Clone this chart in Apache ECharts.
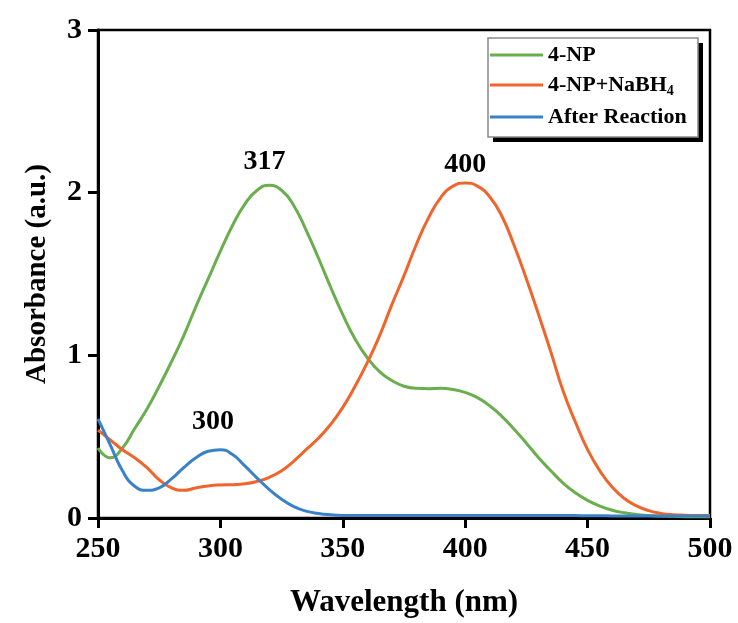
<!DOCTYPE html>
<html>
<head>
<meta charset="utf-8">
<script src="https://cdn.jsdelivr.net/npm/echarts@6/dist/echarts.min.js"></script>
<style>
  html, body { margin: 0; padding: 0; background: #fff; }
  #chart { width: 738px; height: 623px; }
</style>
</head>
<body>
<div id="chart"></div>
<script>
// wavelength (nm), read every 5 nm off the plot
const wavelength = [250, 255, 260, 265, 270, 275, 280, 285, 290, 295, 300, 305, 310, 315, 320, 325, 330, 335, 340, 345,
  350, 355, 360, 365, 370, 375, 380, 385, 390, 395, 400, 405, 410, 415, 420, 425, 430, 435, 440, 445,
  450, 455, 460, 465, 470, 475, 480, 485, 490, 495, 500]

const np4 = [0.43, 0.37, 0.43, 0.55, 0.67, 0.81, 0.96, 1.12, 1.30, 1.47, 1.64, 1.80, 1.93, 2.015, 2.045, 2.015, 1.92, 1.77, 1.60, 1.42,
  1.25, 1.10, 0.985, 0.90, 0.845, 0.81, 0.797, 0.795, 0.797, 0.79, 0.772, 0.74, 0.69, 0.625, 0.545, 0.46, 0.37, 0.29, 0.215, 0.155,
  0.108, 0.073, 0.048, 0.032, 0.022, 0.015, 0.012, 0.01, 0.008, 0.007, 0.007]

const np4NaBH4 = [0.54, 0.48, 0.42, 0.37, 0.31, 0.235, 0.185, 0.17, 0.185, 0.197, 0.203, 0.205, 0.21, 0.225, 0.25, 0.29, 0.35, 0.42, 0.49, 0.575,
  0.68, 0.81, 0.955, 1.12, 1.31, 1.49, 1.68, 1.845, 1.97, 2.04, 2.06, 2.04, 1.975, 1.855, 1.675, 1.47, 1.25, 1.02, 0.78, 0.59,
  0.42, 0.29, 0.19, 0.12, 0.075, 0.045, 0.028, 0.02, 0.017, 0.015, 0.015]

const afterReaction = [0.61, 0.45, 0.29, 0.195, 0.17, 0.185, 0.24, 0.31, 0.37, 0.41, 0.42, 0.39, 0.32, 0.245, 0.175, 0.115, 0.07, 0.042, 0.028, 0.02,
  0.016, 0.015, 0.015, 0.015, 0.015, 0.015, 0.015, 0.015, 0.015, 0.015, 0.015, 0.015, 0.015, 0.015, 0.015, 0.015, 0.015, 0.015, 0.015, 0.015,
  0.014, 0.014, 0.013, 0.013, 0.013, 0.012, 0.012, 0.012, 0.012, 0.012, 0.012]

const seriesNames = ['4-NP', '4-NP+NaBH4', 'After Reaction']
const seriesColors = ['#6aae4e', '#f0652b', '#3a82c8']

// peak labels: text, wavelength, absorbance where the label sits
const peakLabels = [['317', 318, 2.19], ['400', 400, 2.17], ['300', 297, 0.59]]

const font = 'Liberation Serif'

const toPairs = (vals) => wavelength.map((w, i) => [w, vals[i]])

const peakMark = (i) => ({
  symbol: 'circle',
  symbolSize: 0,
  silent: true,
  label: {
    show: true,
    position: 'inside',
    formatter: peakLabels[i][0],
    color: '#000',
    fontFamily: font,
    fontWeight: 'bold',
    fontSize: 28
  },
  data: [{ coord: [peakLabels[i][1], peakLabels[i][2]] }]
})

const chart = echarts.init(document.getElementById('chart'), null, { renderer: 'canvas' })

// legend frame: box with a hard black drop shadow
const legendBox = { x: 488, y: 38, width: 210, height: 99 }

const options = {
  backgroundColor: '#fff',
  animation: false,
  graphic: [
    {
      type: 'rect',
      z: 90,
      shape: { x: legendBox.x + 5, y: legendBox.y + 5, width: legendBox.width, height: legendBox.height },
      style: { fill: '#000' }
    },
    {
      type: 'rect',
      z: 91,
      shape: legendBox,
      style: { fill: '#fff', stroke: '#8a8a8a', lineWidth: 1.5 }
    }
  ],
  grid: {
    left: 98,
    right: 28,
    top: 30,
    bottom: 104,
    show: true,
    borderColor: '#000',
    borderWidth: 2.5,
    backgroundColor: 'transparent'
  },
  legend: {
    z: 100,
    orient: 'vertical',
    left: 488,
    top: 40,
    padding: [4, 14, 4, 2],
    itemGap: 8,
    itemWidth: 53,
    itemHeight: 3,
    icon: 'rect',
    data: seriesNames,
    formatter: (name) => name === '4-NP+NaBH4' ? '4-NP+NaBH{sub|4}' : name,
    textStyle: {
      color: '#000',
      fontFamily: font,
      fontWeight: 'bold',
      fontSize: 22,
      rich: {
        sub: {
          fontFamily: font,
          fontWeight: 'bold',
          fontSize: 14,
          color: '#000',
          padding: [12, 0, 0, 0]
        }
      }
    }
  },
  xAxis: {
    type: 'value',
    min: 250,
    max: 500,
    interval: 50,
    name: 'Wavelength (nm)',
    nameLocation: 'middle',
    nameGap: 69,
    nameTextStyle: { color: '#000', fontFamily: font, fontWeight: 'bold', fontSize: 31 },
    axisLine: { show: true, lineStyle: { color: '#000', width: 3 } },
    axisTick: { show: true, inside: false, length: 10, lineStyle: { color: '#000', width: 3 } },
    axisLabel: { color: '#000', fontFamily: font, fontWeight: 'bold', fontSize: 30, margin: 16 },
    splitLine: { show: false }
  },
  yAxis: {
    type: 'value',
    min: 0,
    max: 3,
    interval: 1,
    name: 'Absorbance (a.u.)',
    nameLocation: 'middle',
    nameGap: 46,
    nameTextStyle: { color: '#000', fontFamily: font, fontWeight: 'bold', fontSize: 29 },
    axisLine: { show: true, lineStyle: { color: '#000', width: 3 } },
    axisTick: { show: true, inside: false, length: 10, lineStyle: { color: '#000', width: 3 } },
    axisLabel: { color: '#000', fontFamily: font, fontWeight: 'bold', fontSize: 30, margin: 16 },
    splitLine: { show: false }
  },
  series: [np4, np4NaBH4, afterReaction].map((vals, i) => ({
    name: seriesNames[i],
    type: 'line',
    smooth: 0.5,
    symbol: 'none',
    data: toPairs(vals),
    itemStyle: { color: seriesColors[i] },
    lineStyle: { color: seriesColors[i], width: 3 },
    markPoint: peakMark(i)
  }))
}

chart.setOption(options)
</script>
</body>
</html>
